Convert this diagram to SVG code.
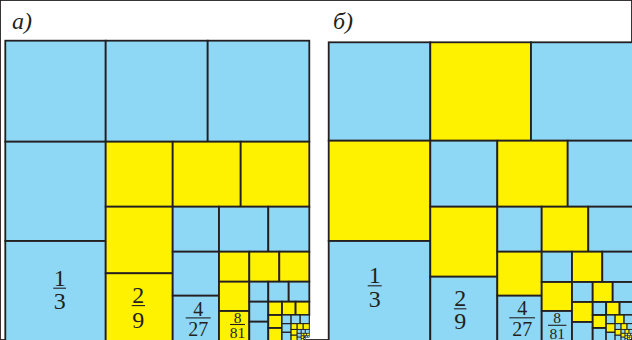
<svg xmlns="http://www.w3.org/2000/svg" width="632" height="340" viewBox="0 0 632 340">
<style>
rect{stroke:#231F20;stroke-width:1.8}
.b{fill:#8ED8F6}
.y{fill:#FFF200}
.s6 rect{stroke-width:1.2}
.s7 rect{stroke-width:1}
.s8 rect{stroke-width:0.8}
.s9 rect{stroke-width:0.6}
.s10 rect{stroke-width:0.45}
.lab{font-family:"Liberation Serif","DejaVu Serif",serif;font-style:italic;font-size:24px;fill:#231F20}
.fr text{font-family:"Liberation Serif","DejaVu Serif",serif;fill:#231F20;text-anchor:middle}
.fr line{stroke:#231F20;stroke-width:1.1}
</style>
<rect width="632" height="340" fill="#fff" stroke="none"/>
<text class="lab" x="12" y="29">а)</text>
<text class="lab" x="333" y="29">б)</text>

<g id="panel-a">
<g id="a-k0" class="b">
<rect x="5.3" y="40.7" width="100.4" height="101"/>
<rect x="105.7" y="40.7" width="102" height="101"/>
<rect x="207.7" y="40.7" width="101.6" height="101"/>
<rect x="5.3" y="141.7" width="100.4" height="99.3"/>
<rect x="5.3" y="241" width="100.4" height="100"/>
</g>
<g id="a-k1" class="y">
<rect x="105.7" y="141.7" width="67" height="65"/>
<rect x="172.7" y="141.7" width="68" height="65"/>
<rect x="240.7" y="141.7" width="68.6" height="65"/>
<rect x="105.7" y="206.7" width="67" height="66.6"/>
<rect x="105.7" y="273.3" width="67" height="67.7"/>
</g>
<g id="a-k2" class="b">
<rect x="172.7" y="206.7" width="46.3" height="45"/>
<rect x="219" y="206.7" width="49.3" height="45"/>
<rect x="268.3" y="206.7" width="41" height="45"/>
<rect x="172.7" y="251.7" width="46.3" height="44"/>
<rect x="172.7" y="295.7" width="46.3" height="45.3"/>
</g>
<g id="a-k3" class="y">
<rect x="219" y="251.7" width="30.3" height="30"/>
<rect x="249.3" y="251.7" width="30" height="30"/>
<rect x="279.3" y="251.7" width="30" height="30"/>
<rect x="219" y="281.7" width="30.3" height="29.3"/>
<rect x="219" y="311" width="30.3" height="30"/>
</g>
<g id="a-k4" class="b">
<rect x="249.3" y="281.7" width="19" height="20"/>
<rect x="268.3" y="281.7" width="20.4" height="20"/>
<rect x="288.7" y="281.7" width="20.6" height="20"/>
<rect x="249.3" y="301.7" width="19" height="20"/>
<rect x="249.3" y="321.7" width="19" height="19.3"/>
</g>
<g id="a-k5" class="y">
<rect x="268.3" y="301.7" width="13.7" height="13.3"/>
<rect x="282" y="301.7" width="13.6" height="13.3"/>
<rect x="295.6" y="301.7" width="13.7" height="13.3"/>
<rect x="268.3" y="315" width="13.7" height="13"/>
<rect x="268.3" y="328" width="13.7" height="13"/>
</g>
<g id="a-k6" class="b s6">
<rect x="282" y="315" width="9.1" height="8.67"/>
<rect x="291.1" y="315" width="9.1" height="8.67"/>
<rect x="300.2" y="315" width="9.1" height="8.67"/>
<rect x="282" y="323.67" width="9.1" height="8.67"/>
<rect x="282" y="332.33" width="9.1" height="8.67"/>
</g>
<g id="a-k7" class="y s7">
<rect x="291.1" y="323.67" width="6.07" height="5.78"/>
<rect x="297.17" y="323.67" width="6.07" height="5.78"/>
<rect x="303.23" y="323.67" width="6.07" height="5.78"/>
<rect x="291.1" y="329.45" width="6.07" height="5.78"/>
<rect x="291.1" y="335.22" width="6.07" height="5.78"/>
</g>
<g id="a-k8" class="b s8">
<rect x="297.17" y="329.45" width="4.04" height="3.85"/>
<rect x="301.21" y="329.45" width="4.04" height="3.85"/>
<rect x="305.26" y="329.45" width="4.04" height="3.85"/>
<rect x="297.17" y="333.3" width="4.04" height="3.85"/>
<rect x="297.17" y="337.15" width="4.04" height="3.85"/>
</g>
<g id="a-k9" class="y s9">
<rect x="301.21" y="333.3" width="2.7" height="2.57"/>
<rect x="303.91" y="333.3" width="2.7" height="2.57"/>
<rect x="306.6" y="333.3" width="2.7" height="2.57"/>
<rect x="301.21" y="335.87" width="2.7" height="2.57"/>
<rect x="301.21" y="338.43" width="2.7" height="2.57"/>
</g>
<g id="a-k10" class="b s10">
<rect x="303.91" y="335.87" width="1.8" height="1.71"/>
<rect x="305.71" y="335.87" width="1.8" height="1.71"/>
<rect x="307.5" y="335.87" width="1.8" height="1.71"/>
<rect x="303.91" y="337.58" width="1.8" height="1.71"/>
<rect x="303.91" y="339.29" width="1.8" height="1.71"/>
</g>
<g id="a-labels" class="fr">
<text x="59.7" y="285.5" font-size="24">1</text><line x1="53.3" y1="288.2" x2="66" y2="288.2"/><text x="59.7" y="309.3" font-size="24">3</text>
<text x="138.3" y="303" font-size="24">2</text><line x1="131.7" y1="305.6" x2="145" y2="305.6"/><text x="138.3" y="327.7" font-size="24">9</text>
<text x="198.2" y="315.5" font-size="20">4</text><line x1="185.7" y1="317.9" x2="210.7" y2="317.9"/><text x="198.2" y="335.7" font-size="20">27</text>
<text x="237.5" y="322.5" font-size="15.5">8</text><line x1="230" y1="324.5" x2="245" y2="324.5"/><text x="237.5" y="338.3" font-size="15.5">81</text>
</g>
</g>

<g id="panel-b">
<g id="b-k0">
<rect class="b" x="328.7" y="42.3" width="101.6" height="98.4"/>
<rect class="y" x="430.3" y="42.3" width="100.7" height="98.4"/>
<rect class="b" x="531" y="42.3" width="102" height="98.4"/>
<rect class="y" x="328.7" y="140.7" width="101.6" height="100.3"/>
<rect class="b" x="328.7" y="241" width="101.6" height="100"/>
</g>
<g id="b-k1">
<rect class="b" x="430.3" y="140.7" width="67" height="66"/>
<rect class="y" x="497.3" y="140.7" width="70.4" height="66"/>
<rect class="b" x="567.7" y="140.7" width="65.3" height="66"/>
<rect class="y" x="430.3" y="206.7" width="67" height="70"/>
<rect class="b" x="430.3" y="276.7" width="67" height="64.3"/>
</g>
<g id="b-k2">
<rect class="b" x="497.3" y="206.7" width="44.4" height="45"/>
<rect class="y" x="541.7" y="206.7" width="46.6" height="45"/>
<rect class="b" x="588.3" y="206.7" width="44.7" height="45"/>
<rect class="y" x="497.3" y="251.7" width="44.4" height="44"/>
<rect class="b" x="497.3" y="295.7" width="44.4" height="45.3"/>
</g>
<g id="b-k3">
<rect class="b" x="541.7" y="251.7" width="30.3" height="30.3"/>
<rect class="y" x="572" y="251.7" width="30.3" height="30.3"/>
<rect class="b" x="602.3" y="251.7" width="30.7" height="30.3"/>
<rect class="y" x="541.7" y="282" width="30.3" height="29"/>
<rect class="b" x="541.7" y="311" width="30.3" height="30"/>
</g>
<g id="b-k4">
<rect class="b" x="572" y="282" width="20.7" height="20"/>
<rect class="y" x="592.7" y="282" width="20" height="20"/>
<rect class="b" x="612.7" y="282" width="20.3" height="20"/>
<rect class="y" x="572" y="302" width="20.7" height="20"/>
<rect class="b" x="572" y="322" width="20.7" height="19"/>
</g>
<g id="b-k5">
<rect class="b" x="592.7" y="302" width="13.5" height="13"/>
<rect class="y" x="606.2" y="302" width="13.4" height="13"/>
<rect class="b" x="619.6" y="302" width="13.4" height="13"/>
<rect class="y" x="592.7" y="315" width="13.5" height="13"/>
<rect class="b" x="592.7" y="328" width="13.5" height="13"/>
</g>
<g id="b-k6" class="s6">
<rect class="b" x="606.2" y="315" width="8.93" height="8.67"/>
<rect class="y" x="615.13" y="315" width="8.93" height="8.67"/>
<rect class="b" x="624.07" y="315" width="8.93" height="8.67"/>
<rect class="y" x="606.2" y="323.67" width="8.93" height="8.67"/>
<rect class="b" x="606.2" y="332.33" width="8.93" height="8.67"/>
</g>
<g id="b-k7" class="s7">
<rect class="b" x="615.13" y="323.67" width="5.96" height="5.78"/>
<rect class="y" x="621.09" y="323.67" width="5.96" height="5.78"/>
<rect class="b" x="627.05" y="323.67" width="5.96" height="5.78"/>
<rect class="y" x="615.13" y="329.45" width="5.96" height="5.78"/>
<rect class="b" x="615.13" y="335.22" width="5.96" height="5.78"/>
</g>
<g id="b-k8" class="s8">
<rect class="b" x="621.09" y="329.45" width="3.97" height="3.85"/>
<rect class="y" x="625.06" y="329.45" width="3.97" height="3.85"/>
<rect class="b" x="629.03" y="329.45" width="3.97" height="3.85"/>
<rect class="y" x="621.09" y="333.3" width="3.97" height="3.85"/>
<rect class="b" x="621.09" y="337.15" width="3.97" height="3.85"/>
</g>
<g id="b-k9" class="s9">
<rect class="b" x="625.06" y="333.3" width="2.65" height="2.57"/>
<rect class="y" x="627.71" y="333.3" width="2.65" height="2.57"/>
<rect class="b" x="630.36" y="333.3" width="2.65" height="2.57"/>
<rect class="y" x="625.06" y="335.87" width="2.65" height="2.57"/>
<rect class="b" x="625.06" y="338.43" width="2.65" height="2.57"/>
</g>
<g id="b-k10" class="s10">
<rect class="b" x="627.71" y="335.87" width="1.76" height="1.71"/>
<rect class="y" x="629.47" y="335.87" width="1.76" height="1.71"/>
<rect class="b" x="631.23" y="335.87" width="1.76" height="1.71"/>
<rect class="y" x="627.71" y="337.58" width="1.76" height="1.71"/>
<rect class="b" x="627.71" y="339.29" width="1.76" height="1.71"/>
</g>
<g id="b-labels" class="fr">
<text x="374.7" y="283.3" font-size="24">1</text><line x1="367.7" y1="285.8" x2="381.7" y2="285.8"/><text x="374.7" y="307" font-size="24">3</text>
<text x="460.2" y="306.4" font-size="24">2</text><line x1="454" y1="308.8" x2="466.4" y2="308.8"/><text x="460.2" y="329.3" font-size="24">9</text>
<text x="522.2" y="315.1" font-size="20">4</text><line x1="509.3" y1="317.8" x2="535" y2="317.8"/><text x="522.2" y="336" font-size="20">27</text>
<text x="557.2" y="323.4" font-size="15.5">8</text><line x1="548" y1="325.3" x2="566.4" y2="325.3"/><text x="557.2" y="338.6" font-size="15.5">81</text>
</g>
</g>
</svg>
